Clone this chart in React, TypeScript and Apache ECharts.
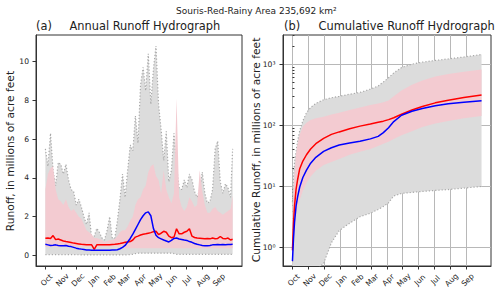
import { useEffect, useRef } from "react";
import * as echarts from "echarts";

// ---------- axis labels ----------
const monthStarts = [0, 31, 61, 92, 123, 151, 182, 212, 243, 273, 304, 335];
const monthLabels = ["Oct", "Nov", "Dec", "Jan", "Feb", "Mar", "Apr", "May", "Jun", "Jul", "Aug", "Sep"];
const yTicksLeft = [0, 2, 4, 6, 8, 10];
const yTicksRight = [1, 10, 100, 1000];
const yTickLabelsRight = ["10\u2070", "10\u00b9", "10\u00b2", "10\u00b3"];
const yMinorRight = [0.6, 0.7, 0.8, 0.9, 2, 3, 4, 5, 6, 7, 8, 9, 20, 30, 40, 50, 60, 70, 80, 90, 200, 300, 400, 500, 600, 700, 800, 900, 2000, 3000];

// ---------- (a) daily runoff ----------
const dailyDays = [0, 5, 10, 15, 20, 25, 30, 35, 40, 45, 50, 55, 60, 65, 70, 75, 80, 85, 90, 95, 100, 105, 110, 115, 120, 125, 130, 135, 140, 145, 150, 155, 160, 165, 170, 175, 180, 185, 190, 195, 200, 205, 210, 215, 220, 225, 230, 235, 240, 245, 250, 255, 260, 265, 270, 275, 280, 285, 290, 295, 300, 305, 310, 315, 320, 325, 330, 335, 340, 345, 350, 355, 360, 364];
const dailyMax = [5.5, 4.6, 6.3, 4.4, 3.6, 4.8, 4.7, 4.2, 4.7, 3.9,
  3.4, 3.3, 2.6, 2.9, 2.5, 2.0, 1.6, 2.2, 0.9, 1.0,
  1.4, 1.2, 0.9, 0.8, 1.3, 2.0, 0.9, 0.9, 1.8, 2.9,
  4.2, 3.0, 4.4, 5.7, 5.4, 7.2, 5.8, 8.8, 9.7, 8.5,
  10.4, 7.8, 9.6, 10.8, 7.8, 6.5, 4.9, 6.4, 3.8, 4.4,
  6.3, 4.6, 3.5, 3.4, 3.9, 3.5, 4.2, 3.9, 3.3, 3.0,
  3.4, 4.3, 3.2, 2.7, 2.8, 3.4, 5.5, 5.9, 3.8, 3.2,
  3.7, 3.5, 3.0, 5.5];
const dailyMin = [0.05, 0.05, 0.05, 0.05, 0.05, 0.05, 0.05, 0.05, 0.05, 0.05,
  0.05, 0.05, 0.04, 0.04, 0.03, 0.03, 0.03, 0.03, 0.03, 0.03,
  0.03, 0.03, 0.03, 0.03, 0.03, 0.03, 0.03, 0.03, 0.03, 0.03,
  0.03, 0.03, 0.04, 0.05, 0.06, 0.1, 0.12, 0.12, 0.12, 0.12,
  0.12, 0.12, 0.12, 0.12, 0.12, 0.12, 0.12, 0.12, 0.12, 0.12,
  0.1, 0.06, 0.06, 0.06, 0.06, 0.06, 0.06, 0.06, 0.06, 0.06,
  0.06, 0.06, 0.06, 0.06, 0.06, 0.06, 0.06, 0.06, 0.06, 0.06,
  0.06, 0.06, 0.06, 0.06];
const dailyUpper = [3.4, 4.2, 4.5, 4.6, 3.4, 2.9, 2.8, 2.6, 2.9, 2.5,
  2.3, 2.4, 2.2, 2.0, 1.9, 1.6, 1.3, 1.2, 1.1, 0.9,
  0.9, 0.85, 0.8, 0.7, 0.75, 0.8, 0.8, 0.85, 1.0, 1.2,
  1.3, 1.3, 1.5, 1.8, 2.0, 2.6, 2.9, 3.0, 3.4, 3.6,
  4.3, 4.6, 4.7, 4.1, 3.9, 3.2, 4.4, 3.4, 3.0, 2.7,
  3.2, 8.1, 3.0, 2.5, 2.3, 2.5, 3.0, 2.8, 2.5, 2.6,
  4.4, 3.3, 2.6, 2.2, 2.2, 2.4, 2.5, 2.3, 2.2, 2.1,
  2.2, 2.3, 2.4, 3.1];
const dailyLower = [0.45, 0.45, 0.45, 0.45, 0.45, 0.45, 0.45, 0.45, 0.45, 0.45,
  0.45, 0.45, 0.45, 0.45, 0.45, 0.45, 0.45, 0.45, 0.45, 0.45,
  0.45, 0.45, 0.45, 0.45, 0.45, 0.45, 0.45, 0.45, 0.45, 0.38,
  0.38, 0.38, 0.38, 0.38, 0.38, 0.38, 0.38, 0.38, 0.38, 0.38,
  0.38, 0.38, 0.38, 0.38, 0.38, 0.38, 0.38, 0.38, 0.38, 0.38,
  0.38, 0.38, 0.38, 0.38, 0.38, 0.38, 0.38, 0.38, 0.38, 0.38,
  0.38, 0.38, 0.38, 0.38, 0.38, 0.38, 0.38, 0.38, 0.38, 0.38,
  0.38, 0.38, 0.38, 0.38];
const dailyMean = [0.89, 0.9, 0.88, 1.03, 0.82, 0.85, 0.8, 0.75, 0.72, 0.7,
  0.67, 0.64, 0.62, 0.6, 0.58, 0.57, 0.56, 0.55, 0.55, 0.32,
  0.55, 0.55, 0.55, 0.55, 0.55, 0.56, 0.57, 0.58, 0.6, 0.62,
  0.65, 0.68, 0.7, 0.72, 0.8, 0.95, 1.0, 1.06, 1.1, 1.12,
  1.15, 1.18, 1.23, 1.25, 1.08, 1.15, 1.25, 1.2, 1.0, 0.92,
  0.95, 1.38, 1.12, 1.12, 1.2, 1.25, 1.38, 1.0, 0.93, 0.9,
  0.89, 0.88, 0.87, 0.88, 0.86, 0.9, 0.87, 0.88, 0.98, 0.88,
  0.86, 0.9, 0.8, 0.84];
const dailyMedian = [0.58, 0.55, 0.52, 0.53, 0.55, 0.52, 0.5, 0.5, 0.52, 0.48,
  0.46, 0.42, 0.38, 0.35, 0.33, 0.31, 0.29, 0.28, 0.27, 0.27,
  0.27, 0.27, 0.27, 0.27, 0.27, 0.27, 0.28, 0.28, 0.3, 0.35,
  0.42, 0.52, 0.7, 0.88, 1.1, 1.35, 1.6, 1.85, 2.05, 2.2,
  2.25, 2.05, 1.4, 1.05, 0.92, 0.86, 0.8, 0.75, 0.7, 0.78,
  0.88, 0.9, 0.85, 0.83, 0.8, 0.78, 0.72, 0.68, 0.62, 0.58,
  0.55, 0.52, 0.5, 0.5, 0.52, 0.55, 0.55, 0.57, 0.55, 0.57,
  0.56, 0.57, 0.57, 0.58];

// ---------- (b) cumulative runoff ----------
const cumDays = [0, 2, 4, 7, 10, 14, 20, 27, 35, 45, 60, 75, 90, 110, 130, 150, 165, 175, 185, 195, 210, 230, 250, 275, 300, 330, 364];
const cumMax = [5.5, 15, 25, 37, 55, 82, 118, 160, 195, 228, 262, 282, 298, 322, 345, 390, 440, 510, 600, 720, 880, 1000, 1080, 1150, 1220, 1310, 1440];
const cumMin = [0.03, 0.08, 0.12, 0.18, 0.22, 0.26, 0.3, 0.33, 0.37, 0.42, 0.55, 1.2, 1.9, 2.5, 3.2, 3.65, 4.2, 4.7, 5.4, 7.0, 7.7, 8.0, 8.3, 8.6, 8.9, 9.4, 10];
const cumUpper = [3.4, 8, 16, 35, 50, 70, 95, 110, 122, 130, 138, 150, 160, 178, 195, 215, 228, 238, 255, 300, 370, 460, 540, 630, 690, 750, 820];
const cumLower = [0.45, 1.2, 2.0, 3.4, 4.5, 6, 8.5, 11.5, 14.5, 18, 22.5, 25, 28, 33, 37, 41, 46, 50, 54, 60, 69, 80, 94, 107, 118, 130, 142];
const cumMean = [0.9, 2.5, 4.8, 9, 13, 19.5, 26, 33, 41, 50, 61, 71, 78, 88, 97, 105, 112, 117, 124, 133, 152, 178, 203, 233, 258, 285, 313];
const cumMedian = [0.6, 1.4, 2.6, 4.8, 6.8, 9.8, 14, 18.5, 24, 30, 37.5, 43, 47.5, 51.5, 55, 60, 66, 76, 91, 115, 146, 170, 188, 209, 225, 238, 252];

const FONT = "DejaVu Sans";
const TXT = "#222";
const GRAY_FILL = "#dcdcdc";
const GRAY_EDGE = "#a9a9a9";
const PINK_FILL = "#f3cbd1";
const GRID_LINE = "#b8b8b8";
const TICK_FONT = 7.6;

const pairs = (xs: number[], ys: number[]) => xs.map((x, i) => [x, ys[i]]);

function band(xi: number, yi: number, xs: number[], lo: number[], hi: number[], color: string, z: number) {
  return {
    type: "custom",
    xAxisIndex: xi,
    yAxisIndex: yi,
    z,
    silent: true,
    data: [[xs[0], hi[0]]],
    renderItem: (params: any, api: any) => {
      const pts: number[][] = [];
      for (let i = 0; i < xs.length; i++) pts.push(api.coord([xs[i], hi[i]]));
      for (let i = xs.length - 1; i >= 0; i--) pts.push(api.coord([xs[i], lo[i]]));
      const cs = params.coordSys;
      return {
        type: "group",
        clipPath: { type: "rect", shape: { x: cs.x, y: cs.y, width: cs.width, height: cs.height } },
        children: [{ type: "polygon", shape: { points: pts }, style: { fill: color } }],
      };
    },
  };
}

function line(xi: number, yi: number, xs: number[], ys: number[], color: string, width: number, z: number, dotted = false) {
  return {
    type: "line",
    xAxisIndex: xi,
    yAxisIndex: yi,
    data: pairs(xs, ys),
    showSymbol: false,
    symbol: "none",
    silent: true,
    z,
    lineStyle: { color, width, type: dotted ? [1.2, 2] : "solid" },
  };
}

function xAxisDef(gridIndex: number, grid: boolean) {
  return {
    type: "value",
    gridIndex,
    min: -18.2,
    max: 382.2,
    axisLine: { show: true, onZero: false, lineStyle: { color: "#333", width: 1 } },
    axisTick: { show: true, customValues: monthStarts, length: 3.5, lineStyle: { color: "#333" } },
    axisLabel: { show: false },
    splitLine: { show: grid, lineStyle: { color: GRID_LINE, width: 1 } },
  };
}

function textEl(x: number, y: number, text: string, fontSize: number, align = "left", rotation = 0) {
  return { type: "text", x, y, rotation, silent: true, style: { text, fontSize, fontFamily: FONT, fill: TXT, align, verticalAlign: "middle" } };
}

export default function App() {
  const ref = useRef<HTMLDivElement>(null);
  useEffect(() => {
    if (!ref.current) return;
    const chart = echarts.init(ref.current, undefined, { renderer: "svg" });
    const option: any = {
      animation: false,
      backgroundColor: "#fff",
      grid: [
        { left: 36, top: 35, width: 206, height: 231, show: true, borderColor: "#333", borderWidth: 1, backgroundColor: "transparent" },
        { left: 283, top: 35, width: 208, height: 231, show: true, borderColor: "#333", borderWidth: 1, backgroundColor: "transparent" },
      ],
      xAxis: [xAxisDef(0, false), xAxisDef(1, true)],
      yAxis: [
        {
          type: "value",
          gridIndex: 0,
          min: -0.54,
          max: 11.37,
          axisLine: { show: true, onZero: false, lineStyle: { color: "#333" } },
          axisTick: { show: true, customValues: yTicksLeft, length: 3.5, lineStyle: { color: "#333" } },
          axisLabel: { customValues: yTicksLeft, margin: 7, fontSize: TICK_FONT, fontFamily: FONT, color: TXT },
          splitLine: { show: false },
        },
        {
          type: "log",
          logBase: 10,
          gridIndex: 1,
          min: 0.5,
          max: 3000,
          axisLine: { show: true, onZero: false, lineStyle: { color: "#333" } },
          axisTick: { show: true, customValues: yTicksRight, length: 3.5, lineStyle: { color: "#333" } },
          axisLabel: {
            customValues: yTicksRight,
            margin: 7.5,
            fontSize: TICK_FONT,
            fontFamily: FONT,
            color: TXT,
            formatter: (v: number) => {
              const i = yTicksRight.findIndex((t) => Math.abs(v - t) / t < 1e-6);
              return i >= 0 ? yTickLabelsRight[i] : "";
            },
          },
          splitLine: { show: true, lineStyle: { color: GRID_LINE, width: 1 } },
        },
        {
          type: "log",
          logBase: 10,
          gridIndex: 1,
          min: 0.5,
          max: 3000,
          axisLine: { show: false },
          axisTick: { show: true, customValues: yMinorRight, length: 2, lineStyle: { color: "#333" } },
          axisLabel: { show: false },
          splitLine: { show: false },
        },
      ],
      series: [
        band(0, 0, dailyDays, dailyMin, dailyMax, GRAY_FILL, 1),
        line(0, 0, dailyDays, dailyMax, GRAY_EDGE, 1.2, 2, true),
        line(0, 0, dailyDays, dailyMin, GRAY_EDGE, 1.2, 2, true),
        band(0, 0, dailyDays, dailyLower, dailyUpper, PINK_FILL, 3),
        line(0, 0, dailyDays, dailyMean, "#ff0000", 1.5, 4),
        line(0, 0, dailyDays, dailyMedian, "#0000ff", 1.5, 5),

        band(1, 1, cumDays, cumMin, cumMax, GRAY_FILL, 1),
        line(1, 1, cumDays, cumMax, GRAY_EDGE, 1.2, 2, true),
        line(1, 1, cumDays, cumMin, GRAY_EDGE, 1.2, 2, true),
        band(1, 1, cumDays, cumLower, cumUpper, PINK_FILL, 3),
        line(1, 1, cumDays, cumMean, "#ff0000", 1.5, 4),
        line(1, 1, cumDays, cumMedian, "#0000ff", 1.5, 5),
      ],
    };
    chart.setOption(option);

    // month labels, rotated 45 degrees and centred under each tick (positions from the axis scale)
    const monthTexts: any[] = [];
    [0, 1].forEach((axisIdx) => {
      const yBottom = chart.convertToPixel({ yAxisIndex: axisIdx === 0 ? 0 : 1 }, axisIdx === 0 ? -0.54 : 0.5) as number;
      monthStarts.forEach((d, i) => {
        const px = chart.convertToPixel({ xAxisIndex: axisIdx }, d) as number;
        monthTexts.push(textEl(px + 1.2, yBottom + 14, monthLabels[i], TICK_FONT, "center", Math.PI / 4));
      });
    });

    chart.setOption({
      graphic: [
        textEl(176, 11, "Souris-Red-Rainy Area 235,692 km\u00b2", 9),
        textEl(36, 26, "(a)", 11.4),
        textEl(69.5, 26, "Annual Runoff Hydrograph", 11.4),
        textEl(284, 26, "(b)", 11.4),
        textEl(318.5, 26, "Cumulative Runoff Hydrograph", 11.4),
        textEl(10, 151, "Runoff, in millions of acre feet", 10.7, "center", Math.PI / 2),
        textEl(256, 150, "Cumulative Runoff, in millions of acre feet", 10.7, "center", Math.PI / 2),
        ...monthTexts,
      ],
    });
    return () => chart.dispose();
  }, []);
  return <div ref={ref} style={{ position: "absolute", left: 0, top: 0, width: 500, height: 294 }} />;
}
